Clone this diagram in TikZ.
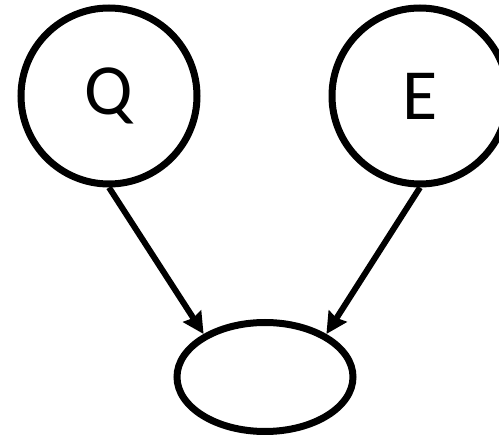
\documentclass[tikz,border=0pt]{standalone}
\usepackage{fontspec}
\setmainfont{Carlito}
\usetikzlibrary{arrows.meta,shapes.geometric}
\begin{document}
\begin{tikzpicture}[x=1pt,y=1pt,
  vnode/.style={draw=black,line width=7pt,circle,minimum size=176pt,inner sep=0pt,font=\fontsize{72}{86}\selectfont},
  enode/.style={draw=black,line width=7pt,ellipse,minimum width=176pt,minimum height=109pt,inner sep=0pt},
  conn/.style={line width=6pt,-{Stealth[length=21pt,width=21pt,inset=2pt]}}]
\useasboundingbox (0,0) rectangle (499,-438);
\node[vnode] (Q) at (109,-96) {Q};
\node[vnode] (E) at (420,-96) {E};
\node[enode] (C) at (265,-377) {};
\draw[conn] (Q.south) -- (C.145);
\draw[conn] (E.south) -- (C.35);
\end{tikzpicture}
\end{document}
